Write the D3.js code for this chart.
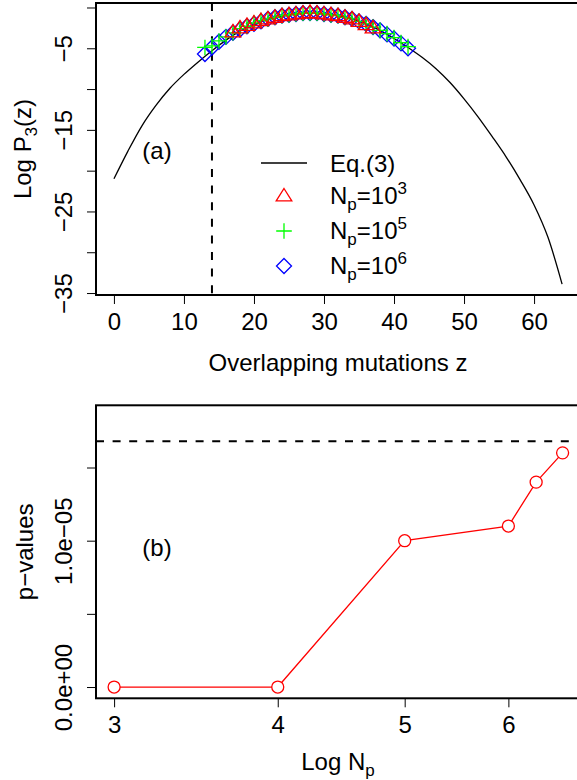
<!DOCTYPE html>
<html>
<head>
<meta charset="utf-8">
<script src="https://cdn.jsdelivr.net/npm/d3@7"></script>
<style>
body { margin: 0; background: #fff; }
svg { font-family: "Liberation Sans", Arial, Helvetica, sans-serif; }
</style>
</head>
<body>
<div id="chart_area"></div>
<script>

// (a) Eq.(3) curve
var curveZ    = [0, 2, 4, 6, 8, 10, 12, 14, 16, 18, 20, 22, 24, 26, 28, 30, 32,
                 34, 36, 38, 40, 42, 44, 46, 48, 50, 52, 54, 56, 58, 60, 62, 64];
var curveLogP = [-21.0, -17.6, -14.5, -12.0, -9.9, -8.2, -6.7, -5.3, -4.0, -2.9, -2.1, -1.5, -1.1, -0.8, -0.7, -0.8, -1.0,
                 -1.4, -2.0, -2.8, -3.8, -4.9, -6.1, -7.5, -9.2, -11.2, -13.4, -15.8, -18.3, -21.1, -24.2, -28.2, -33.9];

// (a) simulated points, Np = 10^6
var zNp6    = [13, 14, 15, 16, 17, 18, 19, 20, 21, 22, 23, 24, 25, 26, 27, 28, 29, 30, 31, 32, 33, 34, 35, 36, 37, 38, 39, 40, 41, 42];
var logPNp6 = [-5.7, -4.9, -4.2, -3.6, -3.1, -2.7, -2.3, -2.0, -1.7, -1.4, -1.2, -1.0, -0.9, -0.8, -0.7, -0.7, -0.7, -0.8, -0.9, -1.0,
               -1.2, -1.4, -1.7, -2.0, -2.4, -2.8, -3.3, -3.8, -4.4, -5.0];

// (a) simulated points, Np = 10^5
var zNp5    = [13, 14, 15, 16, 17, 18, 19, 20, 21, 22, 23, 24, 25, 26, 27, 28, 29, 30, 31, 32, 33, 34, 35, 36, 37, 38, 39, 40, 41, 42];
var logPNp5 = [-4.9, -4.7, -4.1, -3.6, -3.1, -2.6, -2.3, -1.9, -1.6, -1.4, -1.2, -1.0, -0.9, -0.8, -0.7, -0.7, -0.7, -0.8, -0.9, -1.0,
               -1.2, -1.4, -1.7, -2.0, -2.4, -2.8, -3.2, -3.7, -4.3, -4.8];

// (a) simulated points, Np = 10^3
var zNp3    = [17, 18, 19, 20, 21, 22, 23, 24, 25, 26, 27, 28, 29, 30, 31, 32, 33, 34, 35, 36, 37];
var logPNp3 = [-3.0, -2.5, -2.2, -1.9, -1.6, -1.4, -1.2, -1.0, -0.9, -0.8, -0.7, -0.6, -0.7, -0.8, -0.9, -1.0,
               -1.2, -1.4, -1.7, -2.1, -2.5];

var zCut = 14;

// (b) p-values
var logNp   = [3, 4, 5, 6, 6.3, 6.6];
var pValues = [0, 0, 1.0e-5, 1.1e-5, 1.4e-5, 1.6e-5];
var pLevel  = 1.68e-5;

// ticks
var xTicksA  = [0, 10, 20, 30, 40, 50, 60];
var yTicksA  = [0, -5, -10, -15, -20, -25, -30, -35];
var yLabelsA = [-5, -15, -25, -35];
var xTicksB  = [3, 4, 5, 6];
var yTicksB  = [0, 5e-6, 1e-5, 1.5e-5];
var yLabelsB = {"0": "0.0e+00", "0.00001": "1.0e\u221205"};

var W = 577, H = 780;
var left = 96, right = 580;
var fs = 24;

var svg = d3.select("#chart_area")
    .append("svg")
        .attr("width", W)
        .attr("height", H);

// ---------- panel (a) ----------
var topA = 3, botA = 295;

var xA = d3.scaleLinear().domain([-2.56, 66.56]).range([left, right]);
var yA = d3.scaleLinear().domain([-35.24, 0.55]).range([botA, topA]);

var gA = svg.append("g");

//x axis
gA.append("g")
    .attr("transform", "translate(0," + botA + ")")
    .call(d3.axisBottom(xA).tickValues(xTicksA).tickSize(9).tickPadding(9))
    .call(function(g){ g.select(".domain").remove(); })
    .selectAll("text")
        .attr("font-size", fs + "px")
        .attr("font-family", null)
        .attr("fill", "#000");

//y axis
gA.append("g")
    .attr("transform", "translate(" + left + ",0)")
    .call(d3.axisLeft(yA).tickValues(yTicksA).tickSize(9)
        .tickFormat(function(d){ return yLabelsA.indexOf(d) >= 0 ? "\u2212" + Math.abs(d) : ""; }))
    .call(function(g){ g.select(".domain").remove(); })
    .selectAll("text")
        .attr("font-size", fs + "px")
        .attr("font-family", null)
        .attr("fill", "#000")
        .attr("text-anchor", "middle")
        .attr("x", 0).attr("y", -24).attr("dy", null)
        .attr("transform", "rotate(-90)");

gA.selectAll(".tick line").attr("stroke", "#000").attr("stroke-width", 1);

// dashed cut
gA.append("line")
    .attr("x1", xA(zCut)).attr("x2", xA(zCut))
    .attr("y1", topA).attr("y2", botA)
    .attr("stroke", "#000")
    .attr("stroke-width", 2)
    .attr("stroke-dasharray", "8,8.6");

// Eq.(3) curve
var line = d3.line()
    .x(function(d){ return xA(d[0]); })
    .y(function(d){ return yA(d[1]); })
    .curve(d3.curveMonotoneX);

gA.append("path")
    .datum(d3.zip(curveZ, curveLogP))
    .attr("d", line)
    .attr("fill", "none")
    .attr("stroke", "#000")
    .attr("stroke-width", 1.3);

// marker shapes
function triangle(s){ return "M0," + (-s) + "L" + (s * 1.04) + "," + (s * 0.66) + "L" + (-s * 1.04) + "," + (s * 0.66) + "Z"; }
function plus(s){ return "M" + (-s) + ",0H" + s + "M0," + (-s) + "V" + s; }
function diamond(s){ return "M0," + (-s) + "L" + s + ",0L0," + s + "L" + (-s) + ",0Z"; }

var series = [
    {z: zNp6, v: logPNp6, color: "#0000ff", shape: diamond(7.5)},
    {z: zNp5, v: logPNp5, color: "#00ff00", shape: plus(7.8)},
    {z: zNp3, v: logPNp3, color: "#ff0000", shape: triangle(7.5)}
];

series.forEach(function(s){
    gA.append("g").selectAll("path")
        .data(d3.zip(s.z, s.v))
        .enter().append("path")
            .attr("transform", function(d){ return "translate(" + xA(d[0]) + "," + yA(d[1]) + ")"; })
            .attr("d", s.shape)
            .attr("fill", "none")
            .attr("stroke", s.color)
            .attr("stroke-width", 1.3);
});

// box
gA.append("rect")
    .attr("x", left).attr("y", topA)
    .attr("width", right - left).attr("height", botA - topA)
    .attr("fill", "none").attr("stroke", "#000").attr("stroke-width", 2);

//x label
gA.append("text")
    .attr("x", (left + right) / 2)
    .attr("y", 371)
    .attr("font-size", fs + "px")
    .attr("text-anchor", "middle")
    .text("Overlapping mutations z");

//y label
var ylabA = gA.append("text")
    .attr("transform", "translate(31," + ((topA + botA) / 2) + ") rotate(-90)")
    .attr("font-size", fs + "px")
    .attr("text-anchor", "middle");
ylabA.append("tspan").text("Log P");
ylabA.append("tspan").attr("font-size", "17px").attr("dy", 6).text("3");
ylabA.append("tspan").attr("dy", -6).text("(z)");

gA.append("text")
    .attr("x", 157).attr("y", 159)
    .attr("font-size", fs + "px")
    .attr("text-anchor", "middle")
    .text("(a)");

// legend
var lx = 284, tx = 330;
gA.append("line")
    .attr("x1", 261).attr("x2", 307)
    .attr("y1", 163).attr("y2", 163)
    .attr("stroke", "#000").attr("stroke-width", 1.3);
gA.append("text")
    .attr("x", tx).attr("y", 172)
    .attr("font-size", fs + "px")
    .text("Eq.(3)");

var legendItems = [
    {s: series[2], exp: "3", y: 196},
    {s: series[1], exp: "5", y: 231},
    {s: series[0], exp: "6", y: 266}
];
legendItems.forEach(function(d){
    gA.append("path")
        .attr("transform", "translate(" + lx + "," + d.y + ")")
        .attr("d", d.s.shape)
        .attr("fill", "none")
        .attr("stroke", d.s.color)
        .attr("stroke-width", 1.3);
    var t = gA.append("text")
        .attr("x", tx).attr("y", d.y + 8)
        .attr("font-size", fs + "px");
    t.append("tspan").text("N");
    t.append("tspan").attr("font-size", "17px").attr("dy", 6).text("p");
    t.append("tspan").attr("dy", -6).text("=10");
    t.append("tspan").attr("font-size", "17px").attr("dy", -10).text(d.exp);
});

// ---------- panel (b) ----------
var topB = 405.3, botB = 698.3;

var xB = d3.scaleLog().domain([2.906, 6.805]).range([left, right]);
var yB = d3.scaleLinear().domain([-0.077e-5, 1.925e-5]).range([botB, topB]);

var gB = svg.append("g");

//x axis
gB.append("g")
    .attr("transform", "translate(0," + botB + ")")
    .call(d3.axisBottom(xB).tickValues(xTicksB).tickSize(9).tickPadding(9)
        .tickFormat(function(d){ return d; }))
    .call(function(g){ g.select(".domain").remove(); })
    .selectAll("text")
        .attr("font-size", fs + "px")
        .attr("font-family", null)
        .attr("fill", "#000");

//y axis
gB.append("g")
    .attr("transform", "translate(" + left + ",0)")
    .call(d3.axisLeft(yB).tickValues(yTicksB).tickSize(9)
        .tickFormat(function(d){ return yLabelsB[String(d)] || ""; }))
    .call(function(g){ g.select(".domain").remove(); })
    .selectAll("text")
        .attr("font-size", fs + "px")
        .attr("font-family", null)
        .attr("fill", "#000")
        .attr("text-anchor", "middle")
        .attr("x", 0).attr("y", -24).attr("dy", null)
        .attr("transform", "rotate(-90)");

gB.selectAll(".tick line").attr("stroke", "#000").attr("stroke-width", 1);

// dashed level
gB.append("line")
    .attr("x1", left).attr("x2", right)
    .attr("y1", yB(pLevel)).attr("y2", yB(pLevel))
    .attr("stroke", "#000")
    .attr("stroke-width", 2)
    .attr("stroke-dasharray", "8,8.6");

var lineB = d3.line()
    .x(function(d){ return xB(d[0]); })
    .y(function(d){ return yB(d[1]); });

gB.append("path")
    .datum(d3.zip(logNp, pValues))
    .attr("d", lineB)
    .attr("fill", "none")
    .attr("stroke", "#ff0000")
    .attr("stroke-width", 1.3);

gB.selectAll("circle")
    .data(d3.zip(logNp, pValues))
    .enter().append("circle")
        .attr("cx", function(d){ return xB(d[0]); })
        .attr("cy", function(d){ return yB(d[1]); })
        .attr("r", 6)
        .attr("fill", "#fff")
        .attr("stroke", "#ff0000")
        .attr("stroke-width", 1.3);

gB.append("rect")
    .attr("x", left).attr("y", topB)
    .attr("width", right - left).attr("height", botB - topB)
    .attr("fill", "none").attr("stroke", "#000").attr("stroke-width", 2);

//x label
var xlabB = gB.append("text")
    .attr("x", (left + right) / 2)
    .attr("y", 770)
    .attr("font-size", fs + "px")
    .attr("text-anchor", "middle");
xlabB.append("tspan").text("Log N");
xlabB.append("tspan").attr("font-size", "17px").attr("dy", 6).text("p");

//y label
gB.append("text")
    .attr("transform", "translate(33," + ((topB + botB) / 2) + ") rotate(-90)")
    .attr("font-size", fs + "px")
    .attr("text-anchor", "middle")
    .text("p\u2212values");

gB.append("text")
    .attr("x", 157).attr("y", 556)
    .attr("font-size", fs + "px")
    .attr("text-anchor", "middle")
    .text("(b)");

</script>
</body>
</html>
